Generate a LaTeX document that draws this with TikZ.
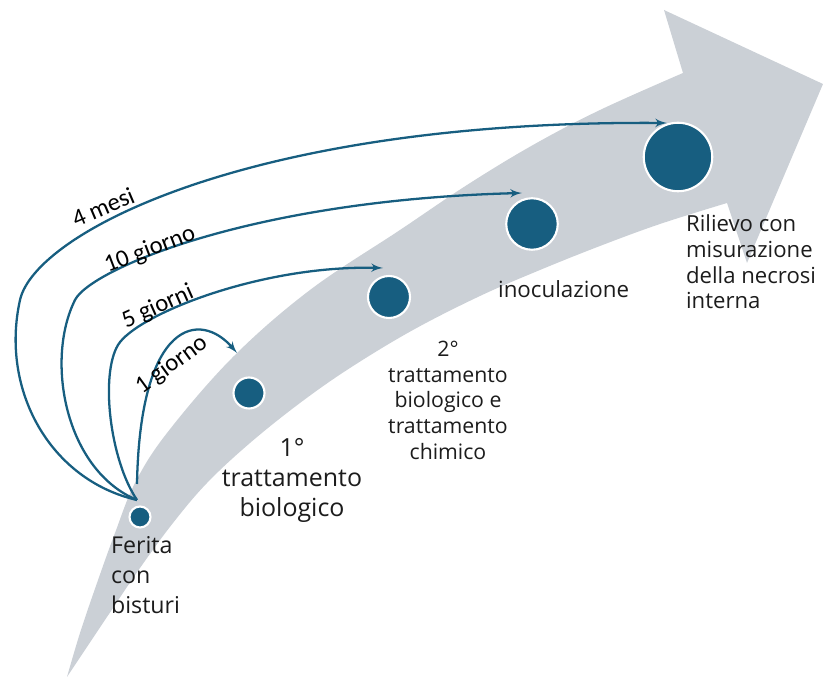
\documentclass[tikz,border=0pt]{standalone}
\usepackage{fontspec}
\setmainfont{Open Sans}
\newfontfamily\labelfont{Carlito}
\usepackage{tikz}
\usetikzlibrary{arrows}
\definecolor{stageblue}{HTML}{175E80}
\definecolor{bandgrey}{HTML}{CBD0D6}
\definecolor{inkgrey}{HTML}{1C1C1C}

\begin{document}
\begin{tikzpicture}[->,>=latex',x=0.02cm,y=-0.02cm,line width=1.3pt]
\tikzstyle{stage}=[circle,draw=white,line width=1.2pt,fill=stageblue,inner sep=0pt]
\tikzstyle{lbl}=[font=\labelfont\fontsize{14}{16}\selectfont,text=black,inner sep=0pt]
\tikzstyle{txt}=[inner sep=0pt,text=inkgrey]
\useasboundingbox (0,0) rectangle (823,678);
% freccia grigia di sfondo
\fill[bandgrey] plot[smooth,tension=0.6] coordinates {(67,677) (80,633) (97,583) (115,533) (135,483) (167,433) (233,357) (310,290) (400,230) (467,185) (533,145) (600,110) (683,73)}
  -- (664,10) -- (823,84) -- (747,263) -- (727,203)
  -- plot[smooth,tension=0.6] coordinates {(727,203) (660,224) (600,246) (540,270) (480,296) (413,330) (350,368) (300,403) (250,443) (207,483) (173,523) (140,568) (107,617) (67,677)} -- cycle;
% tappe
\node[stage,minimum size=0.42cm] (wound) at (140,517) {};
\node[stage,minimum size=0.62cm] (first) at (249,393) {};
\node[stage,minimum size=0.84cm] (second) at (389,297) {};
\node[stage,minimum size=1.03cm] (inoc) at (532,224) {};
\node[stage,minimum size=1.37cm] (survey) at (678,157) {};
\coordinate (cut) at (137,500);
\coordinate (cutA) at (137,484);
\coordinate (tipA) at (237,353);
\coordinate (tipB) at (383,268);
\coordinate (tipC) at (522,193);
\coordinate (tipD) at (667,123);
% collegamenti temporali
\draw[stageblue] (cutA) .. controls (140,320) and (200,310) .. (tipA);
\draw[stageblue] (cut) .. controls (110,460) and (100,375) .. (118,345) .. controls (136,315) and (260,265) .. (tipB);
\draw[stageblue] (cut) .. controls (65,470) and (45,360) .. (75,300) .. controls (90,270) and (250,200) .. (tipC);
\draw[stageblue] (cut) .. controls (50,480) and (0,390) .. (20,300) .. controls (35,233) and (250,120) .. (tipD);
\node[lbl,rotate=23] (mesi4) at (103,207) {4 mesi};
\node[lbl,rotate=21] (giorni10) at (150,250) {10 giorno};
\node[lbl,rotate=24] (giorni5) at (158,307) {5 giorni};
\node[lbl,rotate=36] (giorni1) at (172,365) {1 giorno};
% testi
\node[txt,anchor=north west,align=left,font=\fontsize{13.2}{17.1}\selectfont] (ferita) at (110,535) {Ferita\\con\\bisturi};
\node[txt,anchor=north,align=center,font=\fontsize{14.2}{17.1}\selectfont] (tratt1) at (292,437) {1°\\trattamento\\biologico};
\node[txt,anchor=north,align=center,font=\fontsize{12.1}{14.6}\selectfont] (tratt2) at (448,340) {2°\\trattamento\\biologico e\\trattamento\\chimico};
\node[txt,anchor=base west,font=\fontsize{12.7}{15}\selectfont] (inoculo) at (497,298) {inoculazione};
\node[txt,anchor=north west,align=left,font=\fontsize{12.6}{14.6}\selectfont] (rilievo) at (685,214) {Rilievo con\\misurazione\\della necrosi\\interna};
\end{tikzpicture}
\end{document}
